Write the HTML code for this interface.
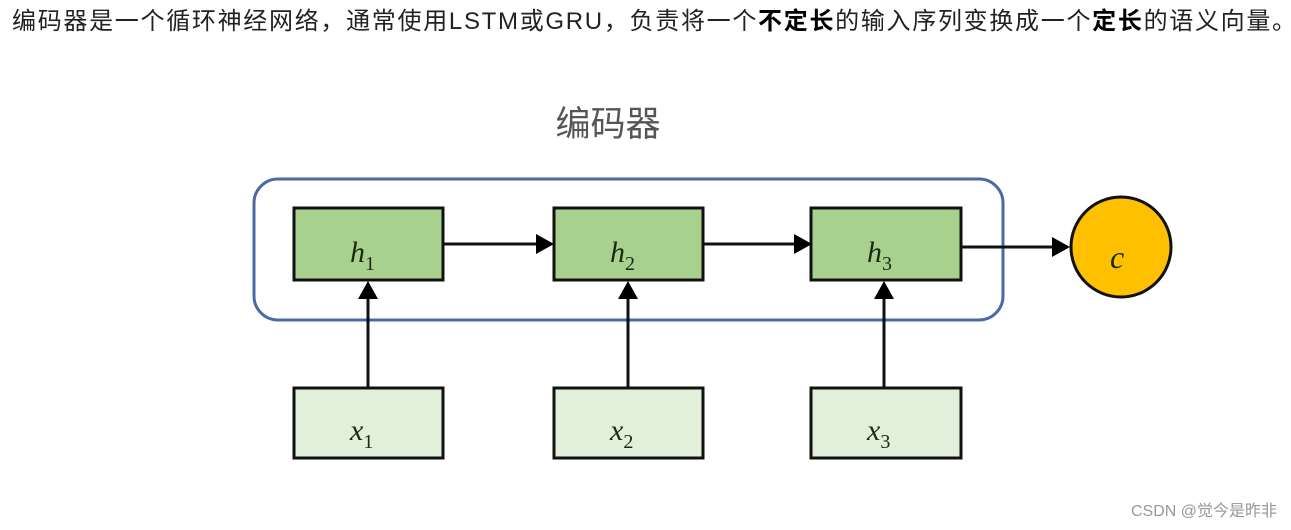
<!DOCTYPE html>
<html><head><meta charset="utf-8"><style>
html,body{margin:0;padding:0;background:#fff;width:1291px;height:530px;overflow:hidden}
.t{position:absolute;left:12px;top:7px;font-family:"Liberation Sans","Noto Sans CJK SC",sans-serif;font-size:24px;letter-spacing:1.7px;color:#222;white-space:nowrap;line-height:30px}
.t b{color:#000}
</style></head><body>
<div class="t">编码器是一个循环神经网络，通常使用LSTM或GRU，负责将一个<b>不定长</b>的输入序列变换成一个<b>定长</b>的语义向量。</div>
<svg width="1291" height="530" style="position:absolute;left:0;top:0">
<text x="608" y="136" text-anchor="middle" font-family="Noto Sans CJK SC,sans-serif" font-size="35" fill="#555">编码器</text>
<rect x="254" y="179" width="749" height="141" rx="24" fill="none" stroke="#4a6aa5" stroke-width="3"/>
<g stroke="#111" stroke-width="3">
<rect x="294" y="208" width="149" height="72" fill="#a9d18e"/>
<rect x="554" y="208" width="149" height="72" fill="#a9d18e"/>
<rect x="811" y="208" width="150" height="72" fill="#a9d18e"/>
<rect x="294" y="388" width="149" height="70" fill="#e2efda"/>
<rect x="554" y="388" width="149" height="70" fill="#e2efda"/>
<rect x="811" y="388" width="150" height="70" fill="#e2efda"/>
<line x1="443" y1="244" x2="536" y2="244"/>
<line x1="703" y1="244" x2="794" y2="244"/>
<line x1="961" y1="247" x2="1052" y2="247"/>
<line x1="368" y1="388" x2="368" y2="298"/>
<line x1="628" y1="388" x2="628" y2="298"/>
<line x1="884" y1="388" x2="884" y2="298"/>
</g>
<g fill="#000">
<polygon points="536,234 554,244 536,254"/>
<polygon points="794,234 812,244 794,254"/>
<polygon points="1052,237 1070,247 1052,257"/>
<polygon points="358,299 368,281 378,299"/>
<polygon points="618,299 628,281 638,299"/>
<polygon points="874,299 884,281 894,299"/>
</g>
<circle cx="1121" cy="247" r="50" fill="#ffc000" stroke="#111" stroke-width="3"/>
<g font-family="Liberation Serif,serif" font-style="italic" fill="#1a2a10" font-size="30">
<text x="350" y="262">h<tspan font-size="20" font-style="normal" dy="8">1</tspan></text>
<text x="610" y="262">h<tspan font-size="20" font-style="normal" dy="8">2</tspan></text>
<text x="867" y="262">h<tspan font-size="20" font-style="normal" dy="8">3</tspan></text>
<text x="350" y="440">x<tspan font-size="20" font-style="normal" dy="8">1</tspan></text>
<text x="610" y="440">x<tspan font-size="20" font-style="normal" dy="8">2</tspan></text>
<text x="867" y="440">x<tspan font-size="20" font-style="normal" dy="8">3</tspan></text>
<text x="1110" y="268" font-size="32">c</text>
</g>
<text x="1277" y="516" text-anchor="end" font-family="Liberation Sans,Noto Sans CJK SC,sans-serif" font-size="16" fill="#999">CSDN @觉今是昨非</text>
</svg>
</body></html>
